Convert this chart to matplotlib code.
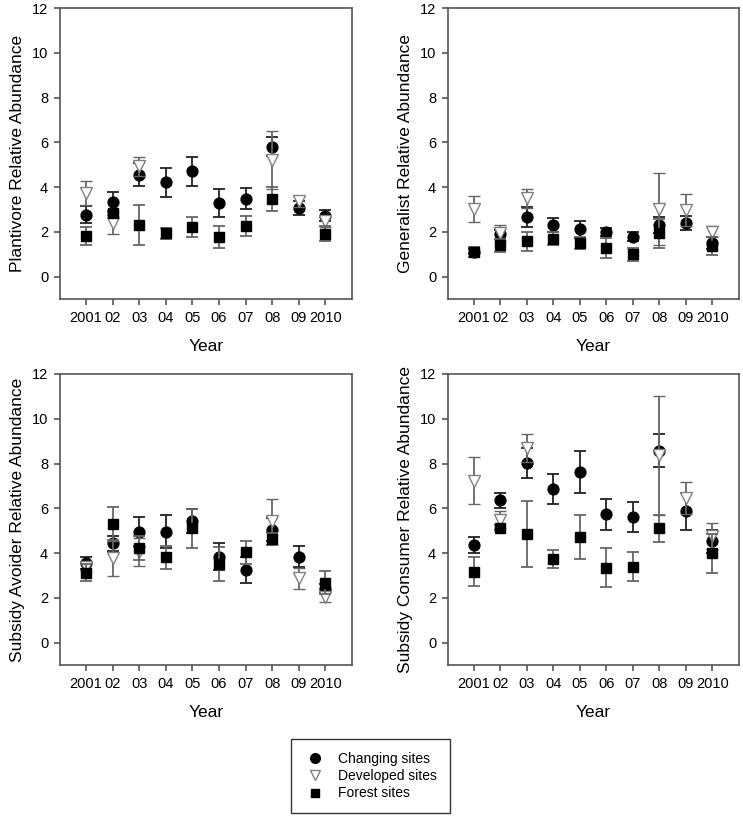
import numpy as np
import matplotlib
matplotlib.use('Agg')
import matplotlib.pyplot as plt
from matplotlib.lines import Line2D

plt.rcParams['font.family'] = ['Liberation Sans', 'DejaVu Sans']

nan = np.nan
years = ['2001', '02', '03', '04', '05', '06', '07', '08', '09', '2010']

# Plantivore
plant_chg = [2.77, 3.33, 4.55, 4.21, 4.71, 3.29, 3.47, 5.81, 3.07, 2.73]
plant_chg_err = [0.38, 0.43, 0.52, 0.66, 0.64, 0.63, 0.47, 0.42, 0.30, 0.23]
plant_dev = [3.73, 2.40, 4.92, nan, nan, nan, nan, 5.21, 3.36, 2.47]
plant_dev_err = [0.52, 0.50, 0.44, nan, nan, nan, nan, 1.30, 0.23, 0.25]
plant_for = [1.81, 2.84, 2.30, 1.93, 2.21, 1.76, 2.25, 3.48, nan, 1.91]
plant_for_err = [0.40, 0.10, 0.89, 0.23, 0.44, 0.50, 0.45, 0.53, nan, 0.33]

# Generalist
gen_chg = [1.12, 1.90, 2.67, 2.30, 2.12, 2.00, 1.79, 2.30, 2.39, 1.50]
gen_chg_err = [0.10, 0.20, 0.45, 0.32, 0.38, 0.18, 0.22, 0.35, 0.30, 0.25]
gen_dev = [3.04, 1.95, 3.49, nan, nan, nan, nan, 3.01, 2.97, 2.01]
gen_dev_err = [0.58, 0.37, 0.42, nan, nan, nan, nan, 1.60, 0.72, 0.26]
gen_for = [1.10, 1.40, 1.57, 1.70, 1.52, 1.27, 1.00, 1.93, nan, 1.37]
gen_for_err = [0.24, 0.30, 0.43, 0.30, 0.27, 0.46, 0.30, 0.63, nan, 0.40]

# Subsidy avoider
avo_chg = [3.54, 4.43, 4.95, 4.95, 5.44, 3.84, 3.24, 5.05, 3.84, 2.40]
avo_chg_err = [0.27, 0.34, 0.64, 0.74, 0.55, 0.61, 0.58, 0.50, 0.47, 0.20]
avo_dev = [3.40, 3.76, 4.06, nan, nan, nan, nan, 5.42, 2.87, 2.03]
avo_dev_err = [0.20, 0.80, 0.62, nan, nan, nan, nan, 1.00, 0.47, 0.22]
avo_for = [3.13, 5.32, 4.24, 3.81, 5.10, 3.50, 4.03, 4.62, nan, 2.68]
avo_for_err = [0.37, 0.74, 0.53, 0.52, 0.87, 0.75, 0.50, 0.26, nan, 0.52]

# Subsidy consumer
con_chg = [4.37, 6.35, 8.02, 6.86, 7.62, 5.74, 5.60, 8.57, 5.86, 4.52]
con_chg_err = [0.37, 0.33, 0.68, 0.66, 0.93, 0.69, 0.67, 0.74, 0.84, 0.50]
con_dev = [7.24, 5.48, 8.69, nan, nan, nan, nan, 8.36, 6.45, 4.78]
con_dev_err = [1.04, 0.38, 0.64, nan, nan, nan, nan, 2.64, 0.72, 0.58]
con_for = [3.17, 5.14, 4.86, 3.74, 4.71, 3.35, 3.40, 5.11, nan, 3.99]
con_for_err = [0.64, 0.12, 1.47, 0.41, 0.97, 0.88, 0.64, 0.60, nan, 0.86]

panels = [
    ('Plantivore Relative Abundance', plant_chg, plant_chg_err, plant_dev, plant_dev_err, plant_for, plant_for_err),
    ('Generalist Relative Abundance', gen_chg, gen_chg_err, gen_dev, gen_dev_err, gen_for, gen_for_err),
    ('Subsidy Avoider Relative Abundance', avo_chg, avo_chg_err, avo_dev, avo_dev_err, avo_for, avo_for_err),
    ('Subsidy Consumer Relative Abundance', con_chg, con_chg_err, con_dev, con_dev_err, con_for, con_for_err),
]

W, H = 743, 816
fig = plt.figure(figsize=(W / 100, H / 100), dpi=100)

boxes = [(60, 8, 352, 299), (448, 8, 739, 299), (60, 374, 352, 665), (448, 374, 739, 665)]
spine_col = '#555555'
x = np.arange(len(years))

for (label, chg, chg_e, dev, dev_e, fr, fr_e), (x0, y0, x1, y1) in zip(panels, boxes):
    ax = fig.add_axes([x0 / W, 1 - y1 / H, (x1 - x0) / W, (y1 - y0) / H])
    ax.errorbar(x, chg, yerr=chg_e, fmt='o', color='black', ms=7.8, ecolor='#222222',
                elinewidth=1.3, capsize=4.3, capthick=1.3, zorder=3)
    ax.errorbar(x, dev, yerr=dev_e, fmt='v', mfc='white', mec='#808080', ms=8.3, mew=1.0,
                ecolor='#666666', elinewidth=1.3, capsize=4.3, capthick=1.3, zorder=4)
    ax.errorbar(x, fr, yerr=fr_e, fmt='s', color='black', ms=6.8, ecolor='#666666',
                elinewidth=1.3, capsize=4.3, capthick=1.3, zorder=5)
    ax.set_xlim(-0.98, 10.0)
    ax.set_ylim(-1, 12)
    ax.set_yticks(range(0, 13, 2))
    ax.set_xticks(x)
    ax.set_xticklabels(years)
    for s in ax.spines.values():
        s.set_color(spine_col)
        s.set_linewidth(1.2)
    ax.tick_params(colors=spine_col, labelcolor='black', labelsize=10.5, length=4.5,
                   width=1.2, pad=4)
    ax.set_ylabel(label, fontsize=12.5, labelpad=5)
    ax.set_xlabel('Year', fontsize=12.5, labelpad=10)

handles = [
    Line2D([], [], ls='none', marker='o', color='black', ms=7),
    Line2D([], [], ls='none', marker='v', mfc='white', mec='#808080', ms=7.5),
    Line2D([], [], ls='none', marker='s', color='black', ms=6),
]
leg = fig.legend(handles, ['Changing sites', 'Developed sites', 'Forest sites'],
                 loc='center', bbox_to_anchor=(370.5 / W, 1 - 776 / H), fontsize=10,
                 frameon=True, fancybox=False, edgecolor='black', borderpad=0.9,
                 handlelength=1.6, handletextpad=0.9, labelspacing=0.25, borderaxespad=0)
leg.get_frame().set_linewidth(1.0)

fig.savefig('out.png', dpi=100)
